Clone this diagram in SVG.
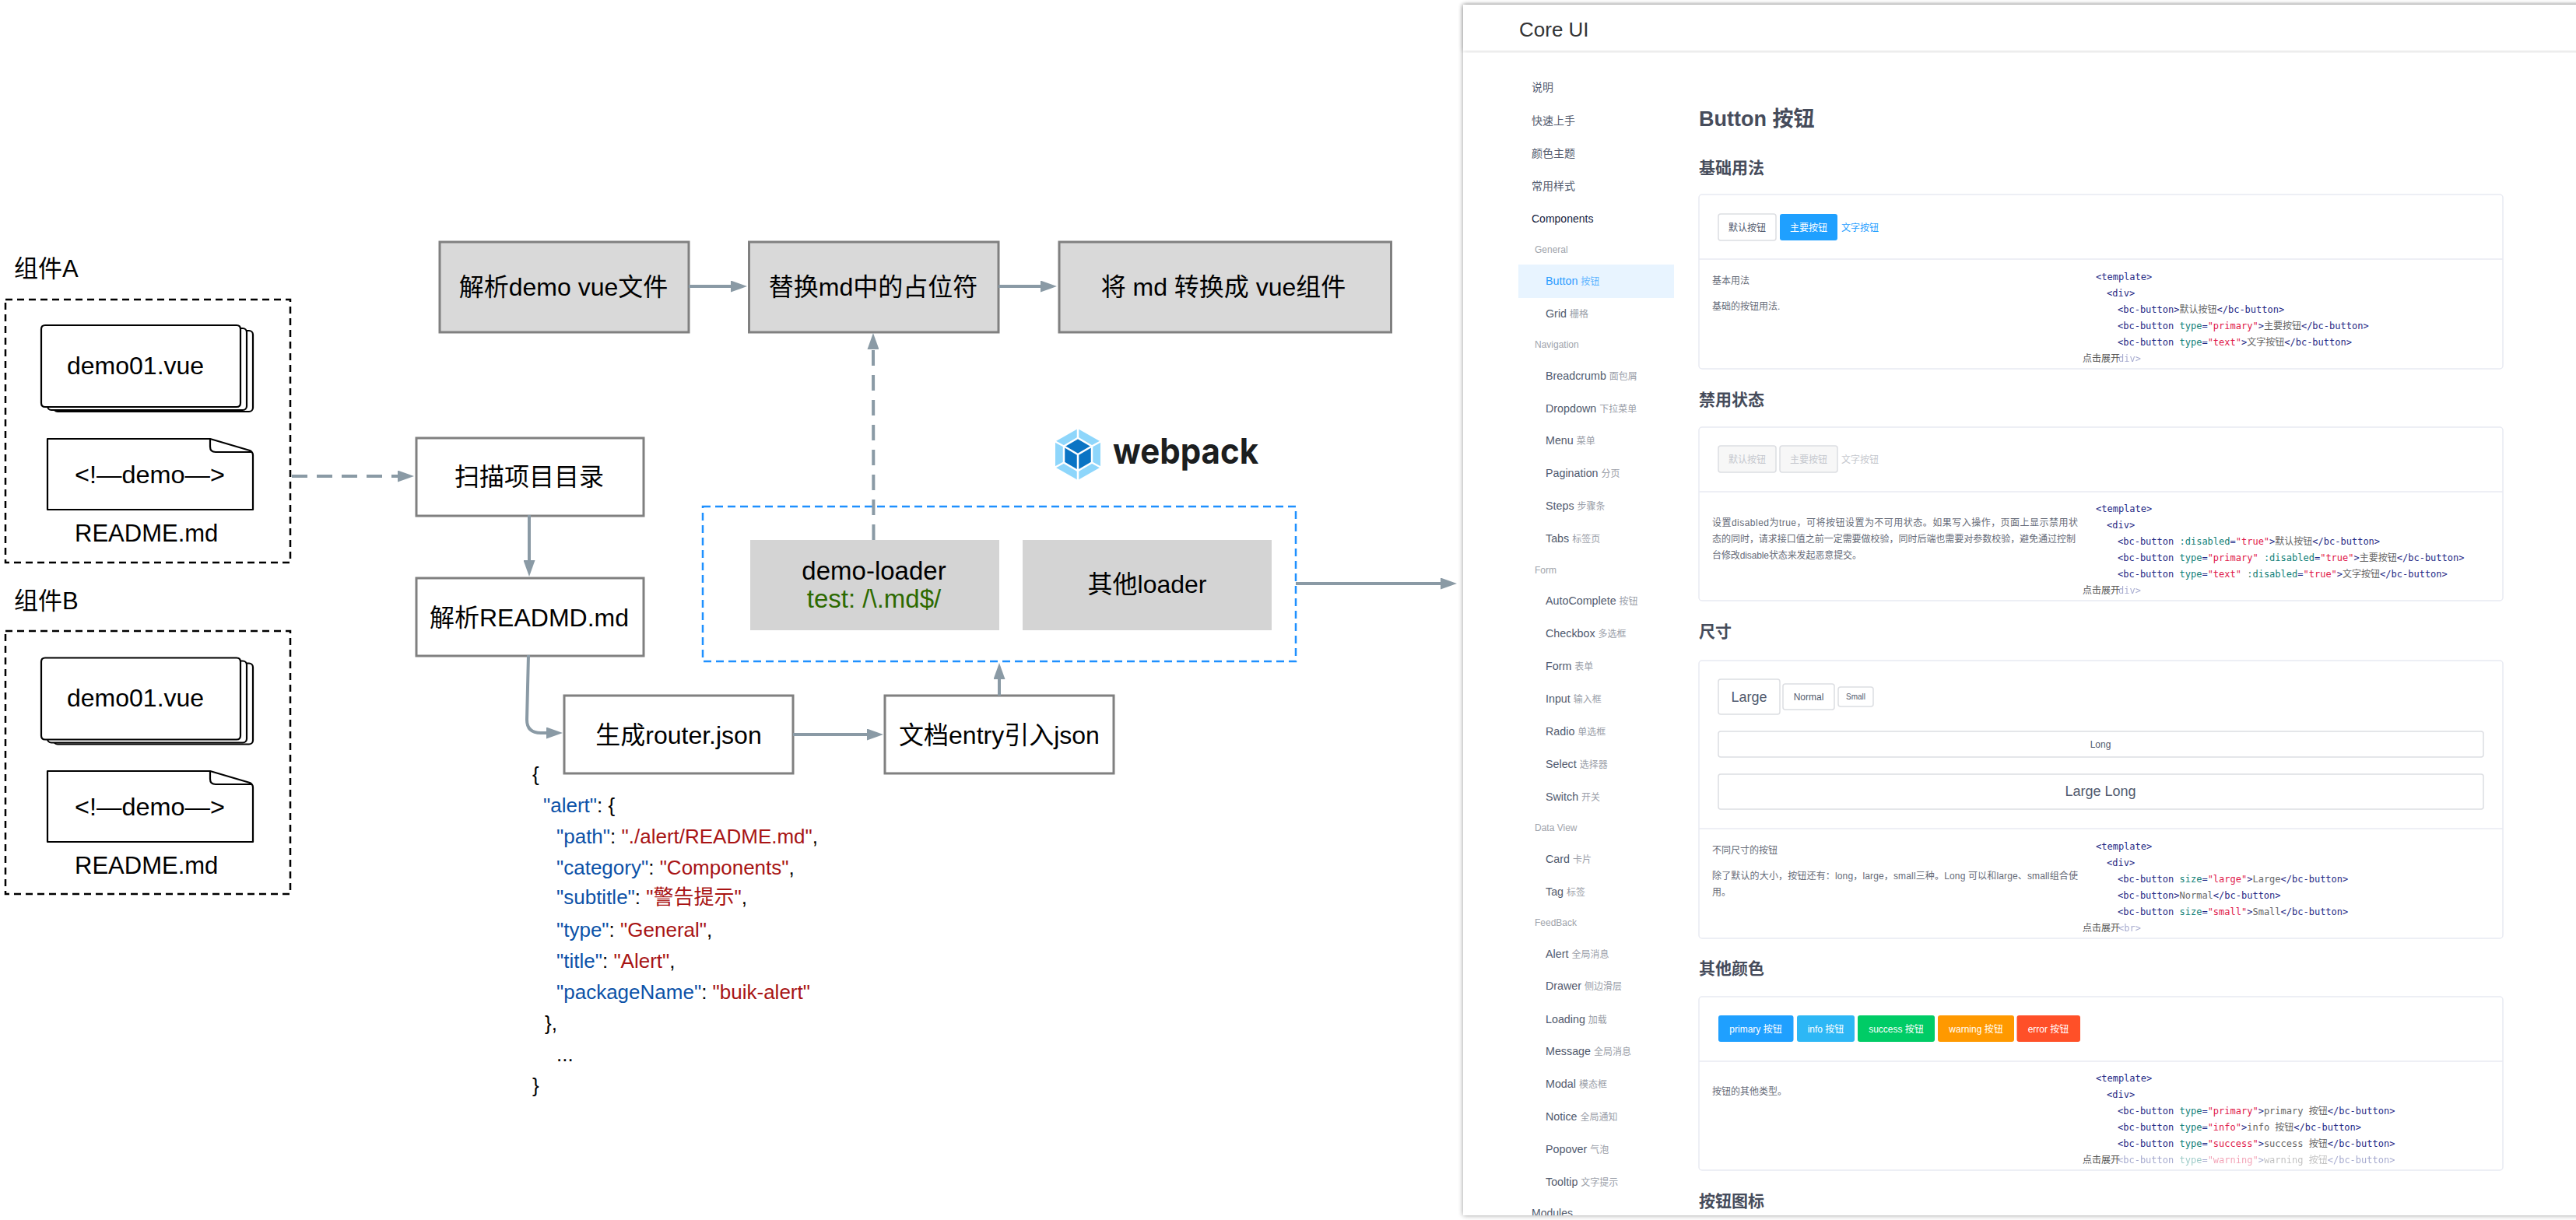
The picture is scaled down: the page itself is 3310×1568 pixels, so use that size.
<svg xmlns="http://www.w3.org/2000/svg" width="3310" height="1568" viewBox="0 0 3310 1568">
<style>
text{font-family:"Liberation Sans","Noto Sans CJK SC",sans-serif;fill:#000}
.t32{font-size:32px;text-anchor:middle}
.lbl{font-size:31px}
.frame{fill:none;stroke:#000;stroke-width:2.5;stroke-dasharray:9 6}
.doc{fill:#fff;stroke:#000;stroke-width:2.2;stroke-linejoin:round}
.box{fill:#fff;stroke:#808080;stroke-width:3}
.gbox{fill:#d9d9d9;stroke:#808080;stroke-width:3}
.lbox{fill:#d4d4d4}
.conn{fill:none;stroke:#8a9aa5;stroke-width:4;marker-end:url(#arr)}
.dash{stroke-dasharray:20 12}
.j{font-size:26px}
.k{fill:#0b52a8}.v{fill:#a81414}
.it{font-size:14.3px;fill:#515a6e}
.it tspan{font-size:12px;fill:#9a9ea8}
.top{font-size:14px;fill:#515a6e}
.grp{font-size:12px;fill:#a0a4ac}
.h1{font-size:27px;font-weight:700;fill:#464c5b}
.h2{font-size:21px;font-weight:700;fill:#464c5b}
.card{fill:#fff;stroke:#e8eaf2;stroke-width:1.5}
.div{stroke:#e8eaf2;stroke-width:1.5}
.btn{fill:#fff;stroke:#dcdee2;stroke-width:1.5}
.off{fill:#f7f7f7;stroke:#dcdee2;stroke-width:1.5}
.b{font-size:12px;text-anchor:middle;fill:#515a6e}
.w{font-size:12px;text-anchor:middle;fill:#fff}
.o{font-size:12px;text-anchor:middle;fill:#c5c8ce}
.d{font-size:12px;fill:#666b78}
.code{font-family:"DejaVu Sans Mono","Noto Sans CJK SC",monospace;font-size:12px;fill:#1f2a86}
.a{fill:#0f8078}.s{fill:#e0184a}.z{fill:#666;font-family:"Noto Sans CJK SC",sans-serif}
.fade{opacity:.4}
</style>
<defs>
<marker id="arr" markerUnits="userSpaceOnUse" viewBox="0 0 21 15" refX="1" refY="7.5" markerWidth="21" markerHeight="15" orient="auto"><polygon points="0,0 21,7.5 0,15" fill="#8a9aa5"/></marker>
<filter id="sh" x="-5%" y="-5%" width="110%" height="110%"><feGaussianBlur stdDeviation="3"/></filter>
<clipPath id="pclip"><rect x="1880" y="6" width="1430" height="1556"/></clipPath>
<g id="stack">
<rect class="doc" x="69" y="425" width="256" height="104" rx="5"/>
<rect class="doc" x="61" y="422" width="256" height="105" rx="5"/>
<path class="doc" d="M53 423Q53 418 58 418L304 418Q309 418 309 423L309 518Q309 523 304 523L58 523Q53 523 53 518Z"/>
</g>
<g id="note">
<path class="doc" d="M61 564L270 564L321 579Q325 581 325 585L325 655L61 655Z"/>
<path fill="none" stroke="#000" stroke-width="2.2" d="M270 564L270 574Q270 581 277 581L323 581"/>
</g>
</defs>
<rect width="3310" height="1568" fill="#fff"/>

<g id="group-a">
<text class="lbl" x="18" y="356">组件A</text>
<rect class="frame" x="7" y="385" width="366" height="338"/>
<use href="#stack"/><text x="86" y="481" font-size="32">demo01.vue</text>
<use href="#note"/><text x="96" y="621" font-size="32" textLength="193" lengthAdjust="spacingAndGlyphs">&lt;!—demo—&gt;</text>
<text x="96" y="696" font-size="31">README.md</text>
</g>
<g id="group-b">
<text class="lbl" x="18" y="783">组件B</text>
<rect class="frame" x="7" y="811" width="366" height="338"/>
<use href="#stack" y="427.5"/><text x="86" y="908" font-size="32">demo01.vue</text>
<use href="#note" y="427"/><text x="96" y="1048" font-size="32" textLength="193" lengthAdjust="spacingAndGlyphs">&lt;!—demo—&gt;</text>
<text x="96" y="1123" font-size="31">README.md</text>
</g>

<g id="n-parse-demo"><rect class="gbox" x="565" y="311" width="320" height="116"/><text class="t32" x="724" y="380">解析demo vue文件</text></g>
<g id="n-replace"><rect class="gbox" x="962.5" y="311" width="320.500" height="116"/><text class="t32" x="1122" y="380">替换md中的占位符</text></g>
<g id="n-convert"><rect class="gbox" x="1361" y="311" width="426.500" height="116"/><text class="t32" x="1572" y="380" xml:space="preserve">将 md 转换成 vue组件</text></g>
<g id="n-scan"><rect class="box" x="535" y="563" width="292" height="100"/><text class="t32" x="680" y="624">扫描项目目录</text></g>
<g id="n-readme"><rect class="box" x="535" y="743" width="292" height="100"/><text class="t32" x="680" y="805">解析READMD.md</text></g>
<g id="n-router"><rect class="box" x="725" y="894" width="294" height="100"/><text class="t32" x="872" y="956">生成router.json</text></g>
<g id="n-entry"><rect class="box" x="1137" y="894" width="294" height="100"/><text class="t32" x="1284" y="956">文档entry引入json</text></g>
<g id="n-webpack-group"><rect x="903" y="651" width="762" height="199" fill="none" stroke="#1e90ff" stroke-width="2.5" stroke-dasharray="10 6"/></g>
<g id="n-demo-loader"><rect class="lbox" x="964" y="694" width="320" height="116"/><text class="t32" x="1123" y="745" style="font-size:33px">demo-loader</text><text class="t32" x="1123" y="781" style="font-size:33px;fill:#2d6a00">test: /\.md$/</text></g>
<g id="n-other-loader"><rect class="lbox" x="1314" y="694" width="320" height="116"/><text class="t32" x="1474" y="762">其他loader</text></g>

<g id="webpack-logo">
<polygon points="1385,551 1414,567.500 1414,600.500 1385,617 1356,600.500 1356,567.500" fill="#8ed6fb"/>
<polygon points="1385,563 1403,573.500 1403,594.500 1385,605 1367,594.500 1367,573.500" fill="#0a74c4"/>
<g stroke="#fff" stroke-width="2.5" fill="none">
<path d="M1385 549V563M1385 605V619M1354 566.500L1367 573.500M1416 566.500L1403 573.500M1354 601.500L1367 594.500M1416 601.500L1403 594.500"/>
<path d="M1367 573.500L1385 563L1403 573.500V594.500L1385 605L1367 594.500Z"/>
<path d="M1367 573.500L1385 584L1403 573.500M1385 584V605"/>
</g>
<text x="1430" y="596" textLength="187" lengthAdjust="spacingAndGlyphs" style="font-family:Inter,'Liberation Sans',sans-serif;font-size:45px;font-weight:700;fill:#1c1e1f">webpack</text>
</g>

<g id="connectors">
<path class="conn dash" d="M375 612L512 612"/>
<path class="conn" d="M680 662L680 721"/>
<path class="conn" d="M679 842L677 925Q677 942 695 942L703 942"/>
<path class="conn" d="M885 368L940 368"/>
<path class="conn" d="M1283 368L1338 368"/>
<path class="conn dash" d="M1122.500 694L1122 448"/>
<path class="conn" d="M1019 944L1115 944"/>
<path class="conn" d="M1284 894L1284 872"/>
<path class="conn" d="M1665 750L1852 750"/>
</g>

<g id="json-text">
<text class="j" x="684" y="1004">{</text>
<text class="j" x="698" y="1044"><tspan class="k">"alert"</tspan>: {</text>
<text class="j" x="715" y="1084"><tspan class="k">"path"</tspan>: <tspan class="v">"./alert/README.md"</tspan>,</text>
<text class="j" x="715" y="1124"><tspan class="k">"category"</tspan>: <tspan class="v">"Components"</tspan>,</text>
<text class="j" x="715" y="1162"><tspan class="k">"subtitle"</tspan>: <tspan class="v">"警告提示"</tspan>,</text>
<text class="j" x="715" y="1204"><tspan class="k">"type"</tspan>: <tspan class="v">"General"</tspan>,</text>
<text class="j" x="715" y="1244"><tspan class="k">"title"</tspan>: <tspan class="v">"Alert"</tspan>,</text>
<text class="j" x="715" y="1284"><tspan class="k">"packageName"</tspan>: <tspan class="v">"buik-alert"</tspan></text>
<text class="j" x="700" y="1324">},</text>
<text class="j" x="715" y="1364">...</text>
<text class="j" x="684" y="1404">}</text>
</g>

<g id="docs-panel">
<rect x="1880" y="6" width="1440" height="1556" fill="#000" opacity=".4" filter="url(#sh)"/>
<rect x="1880" y="6" width="1430" height="1556" fill="#fff"/>
<rect x="1880" y="6" width="1440" height="59" fill="#000" opacity=".2" filter="url(#sh)"/>
<rect x="1880" y="6" width="1430" height="59" fill="#fff"/>
<text x="1952" y="47" font-size="26" style="fill:#333">Core UI</text>

<g id="sidebar" clip-path="url(#pclip)">
<rect x="1951" y="340" width="200" height="43" fill="#e8f4ff"/>
<text class="top" x="1968" y="117">说明</text>
<text class="top" x="1968" y="159.500">快速上手</text>
<text class="top" x="1968" y="202">颜色主题</text>
<text class="top" x="1968" y="244">常用样式</text>
<text class="top" x="1968" y="285.500" style="fill:#17233d">Components</text>
<text class="grp" x="1972" y="324.500">General</text>
<text class="it" x="1986" y="366" style="fill:#2d9dff">Button <tspan style="fill:#5fb4ff">按钮</tspan></text>
<text class="it" x="1986" y="408">Grid <tspan>栅格</tspan></text>
<text class="grp" x="1972" y="446.500">Navigation</text>
<text class="it" x="1986" y="488">Breadcrumb <tspan>面包屑</tspan></text>
<text class="it" x="1986" y="529.500">Dropdown <tspan>下拉菜单</tspan></text>
<text class="it" x="1986" y="571">Menu <tspan>菜单</tspan></text>
<text class="it" x="1986" y="613">Pagination <tspan>分页</tspan></text>
<text class="it" x="1986" y="655">Steps <tspan>步骤条</tspan></text>
<text class="it" x="1986" y="697">Tabs <tspan>标签页</tspan></text>
<text class="grp" x="1972" y="736.500">Form</text>
<text class="it" x="1986" y="777">AutoComplete <tspan>按钮</tspan></text>
<text class="it" x="1986" y="819">Checkbox <tspan>多选框</tspan></text>
<text class="it" x="1986" y="861">Form <tspan>表单</tspan></text>
<text class="it" x="1986" y="903">Input <tspan>输入框</tspan></text>
<text class="it" x="1986" y="945">Radio <tspan>单选框</tspan></text>
<text class="it" x="1986" y="986.500">Select <tspan>选择器</tspan></text>
<text class="it" x="1986" y="1029">Switch <tspan>开关</tspan></text>
<text class="grp" x="1972" y="1067.500">Data View</text>
<text class="it" x="1986" y="1109">Card <tspan>卡片</tspan></text>
<text class="it" x="1986" y="1151">Tag <tspan>标签</tspan></text>
<text class="grp" x="1972" y="1189.500">FeedBack</text>
<text class="it" x="1986" y="1231">Alert <tspan>全局消息</tspan></text>
<text class="it" x="1986" y="1272">Drawer <tspan>侧边滑层</tspan></text>
<text class="it" x="1986" y="1315">Loading <tspan>加载</tspan></text>
<text class="it" x="1986" y="1356">Message <tspan>全局消息</tspan></text>
<text class="it" x="1986" y="1398">Modal <tspan>模态框</tspan></text>
<text class="it" x="1986" y="1440">Notice <tspan>全局通知</tspan></text>
<text class="it" x="1986" y="1482">Popover <tspan>气泡</tspan></text>
<text class="it" x="1986" y="1524">Tooltip <tspan>文字提示</tspan></text>
<text class="top" x="1968" y="1564">Modules</text>
</g>

<text class="h1" x="2183" y="162">Button 按钮</text>

<g id="card-basic">
<text class="h2" x="2183" y="223">基础用法</text>
<rect class="card" x="2183" y="250" width="1033" height="224" rx="4"/>
<line class="div" x1="2183" y1="333" x2="3216" y2="333"/>
<rect class="btn" x="2208" y="275" width="74" height="34" rx="3"/><text class="b" x="2245" y="296.500">默认按钮</text>
<rect x="2287" y="275" width="74" height="34" rx="3" fill="#1fa0ff"/><text class="w" x="2324" y="296.500">主要按钮</text>
<text x="2366" y="296.500" font-size="12" style="fill:#1fa0ff">文字按钮</text>
<text class="d" x="2200" y="365">基本用法</text>
<text class="d" x="2200" y="398">基础的按钮用法.</text>
<text class="code" x="2693" y="360">&lt;template&gt;</text>
<text class="code" x="2707" y="381">&lt;div&gt;</text>
<text class="code" x="2721" y="402">&lt;bc-button&gt;<tspan class="z">默认按钮</tspan>&lt;/bc-button&gt;</text>
<text class="code" x="2721" y="423">&lt;bc-button <tspan class="a">type</tspan>=<tspan class="s">"primary"</tspan>&gt;<tspan class="z">主要按钮</tspan>&lt;/bc-button&gt;</text>
<text class="code" x="2721" y="444">&lt;bc-button <tspan class="a">type</tspan>=<tspan class="s">"text"</tspan>&gt;<tspan class="z">文字按钮</tspan>&lt;/bc-button&gt;</text>
<text class="code fade" x="2722" y="465">div&gt;</text>
<text class="d" x="2676" y="465" style="fill:#555">点击展开</text>
</g>

<g id="card-disabled">
<text class="h2" x="2183" y="521">禁用状态</text>
<rect class="card" x="2183" y="549" width="1033" height="223" rx="4"/>
<line class="div" x1="2183" y1="632" x2="3216" y2="632"/>
<rect class="off" x="2208" y="573" width="74" height="34" rx="3"/><text class="o" x="2245" y="594.500">默认按钮</text>
<rect class="off" x="2287" y="573" width="74" height="34" rx="3"/><text class="o" x="2324" y="594.500">主要按钮</text>
<text x="2366" y="594.500" font-size="12" style="fill:#c5c8ce">文字按钮</text>
<text class="d" x="2200" y="676" textLength="470" lengthAdjust="spacing">设置disabled为true，可将按钮设置为不可用状态。如果写入操作，页面上显示禁用状</text>
<text class="d" x="2200" y="697" textLength="467" lengthAdjust="spacing">态的同时，请求接口值之前一定需要做校验，同时后端也需要对参数校验，避免通过控制</text>
<text class="d" x="2200" y="718" textLength="192" lengthAdjust="spacing">台修改disable状态来发起恶意提交。</text>
<text class="code" x="2693" y="658">&lt;template&gt;</text>
<text class="code" x="2707" y="679">&lt;div&gt;</text>
<text class="code" x="2721" y="700">&lt;bc-button <tspan class="a">:disabled</tspan>=<tspan class="s">"true"</tspan>&gt;<tspan class="z">默认按钮</tspan>&lt;/bc-button&gt;</text>
<text class="code" x="2721" y="721">&lt;bc-button <tspan class="a">type</tspan>=<tspan class="s">"primary"</tspan> <tspan class="a">:disabled</tspan>=<tspan class="s">"true"</tspan>&gt;<tspan class="z">主要按钮</tspan>&lt;/bc-button&gt;</text>
<text class="code" x="2721" y="742">&lt;bc-button <tspan class="a">type</tspan>=<tspan class="s">"text"</tspan> <tspan class="a">:disabled</tspan>=<tspan class="s">"true"</tspan>&gt;<tspan class="z">文字按钮</tspan>&lt;/bc-button&gt;</text>
<text class="code fade" x="2722" y="763">div&gt;</text>
<text class="d" x="2676" y="763" style="fill:#555">点击展开</text>
</g>

<g id="card-size">
<text class="h2" x="2183" y="819">尺寸</text>
<rect class="card" x="2183" y="849" width="1033" height="357" rx="4"/>
<line class="div" x1="2183" y1="1065" x2="3216" y2="1065"/>
<rect class="btn" x="2208" y="873" width="79" height="45" rx="3"/><text class="b" x="2247.500" y="902" style="font-size:18px">Large</text>
<rect class="btn" x="2291" y="879" width="66" height="33" rx="3"/><text class="b" x="2324" y="900">Normal</text>
<rect class="btn" x="2362" y="883" width="45" height="25" rx="3"/><text class="b" x="2384.500" y="899" style="font-size:10px">Small</text>
<rect class="btn" x="2208" y="940" width="983" height="33" rx="3"/><text class="b" x="2699" y="961">Long</text>
<rect class="btn" x="2208" y="995" width="983" height="45" rx="3"/><text class="b" x="2699" y="1023" style="font-size:18px">Large Long</text>
<text class="d" x="2200" y="1097">不同尺寸的按钮</text>
<text class="d" x="2200" y="1130" textLength="470" lengthAdjust="spacing">除了默认的大小，按钮还有：long，large，small三种。Long 可以和large、small组合使</text>
<text class="d" x="2200" y="1151">用。</text>
<text class="code" x="2693" y="1092">&lt;template&gt;</text>
<text class="code" x="2707" y="1113">&lt;div&gt;</text>
<text class="code" x="2721" y="1134">&lt;bc-button <tspan class="a">size</tspan>=<tspan class="s">"large"</tspan>&gt;<tspan class="z" style="font-family:'DejaVu Sans Mono',monospace">Large</tspan>&lt;/bc-button&gt;</text>
<text class="code" x="2721" y="1155">&lt;bc-button&gt;<tspan class="z" style="font-family:'DejaVu Sans Mono',monospace">Normal</tspan>&lt;/bc-button&gt;</text>
<text class="code" x="2721" y="1176">&lt;bc-button <tspan class="a">size</tspan>=<tspan class="s">"small"</tspan>&gt;<tspan class="z" style="font-family:'DejaVu Sans Mono',monospace">Small</tspan>&lt;/bc-button&gt;</text>
<text class="code fade" x="2722" y="1197">&lt;br&gt;</text>
<text class="d" x="2676" y="1197" style="fill:#555">点击展开</text>
</g>

<g id="card-colors">
<text class="h2" x="2183" y="1252">其他颜色</text>
<rect class="card" x="2183" y="1281" width="1033" height="223" rx="4"/>
<line class="div" x1="2183" y1="1364" x2="3216" y2="1364"/>
<rect x="2208" y="1305" width="96.500" height="34" rx="3" fill="#1fa0ff"/><text class="w" x="2256" y="1326.500">primary 按钮</text>
<rect x="2309" y="1305" width="74" height="34" rx="3" fill="#2db7f5"/><text class="w" x="2346" y="1326.500">info 按钮</text>
<rect x="2387" y="1305" width="99" height="34" rx="3" fill="#00cc66"/><text class="w" x="2436.500" y="1326.500">success 按钮</text>
<rect x="2490" y="1305" width="98" height="34" rx="3" fill="#ff9900"/><text class="w" x="2539" y="1326.500">warning 按钮</text>
<rect x="2591.500" y="1305" width="81.500" height="34" rx="3" fill="#ff5028"/><text class="w" x="2632" y="1326.500">error 按钮</text>
<text class="d" x="2200" y="1407">按钮的其他类型。</text>
<text class="code" x="2693" y="1390">&lt;template&gt;</text>
<text class="code" x="2707" y="1411">&lt;div&gt;</text>
<text class="code" x="2721" y="1432">&lt;bc-button <tspan class="a">type</tspan>=<tspan class="s">"primary"</tspan>&gt;<tspan class="z" style="font-family:'DejaVu Sans Mono','Noto Sans CJK SC',monospace">primary 按钮</tspan>&lt;/bc-button&gt;</text>
<text class="code" x="2721" y="1453">&lt;bc-button <tspan class="a">type</tspan>=<tspan class="s">"info"</tspan>&gt;<tspan class="z" style="font-family:'DejaVu Sans Mono','Noto Sans CJK SC',monospace">info 按钮</tspan>&lt;/bc-button&gt;</text>
<text class="code" x="2721" y="1474">&lt;bc-button <tspan class="a">type</tspan>=<tspan class="s">"success"</tspan>&gt;<tspan class="z" style="font-family:'DejaVu Sans Mono','Noto Sans CJK SC',monospace">success 按钮</tspan>&lt;/bc-button&gt;</text>
<text class="code fade" x="2721" y="1495">&lt;bc-button <tspan class="a">type</tspan>=<tspan class="s">"warning"</tspan>&gt;<tspan class="z" style="font-family:'DejaVu Sans Mono','Noto Sans CJK SC',monospace">warning 按钮</tspan>&lt;/bc-button&gt;</text>
<text class="d" x="2676" y="1495" style="fill:#555">点击展开</text>
</g>
<text class="h2" x="2183" y="1551">按钮图标</text>
</g>
</svg>
